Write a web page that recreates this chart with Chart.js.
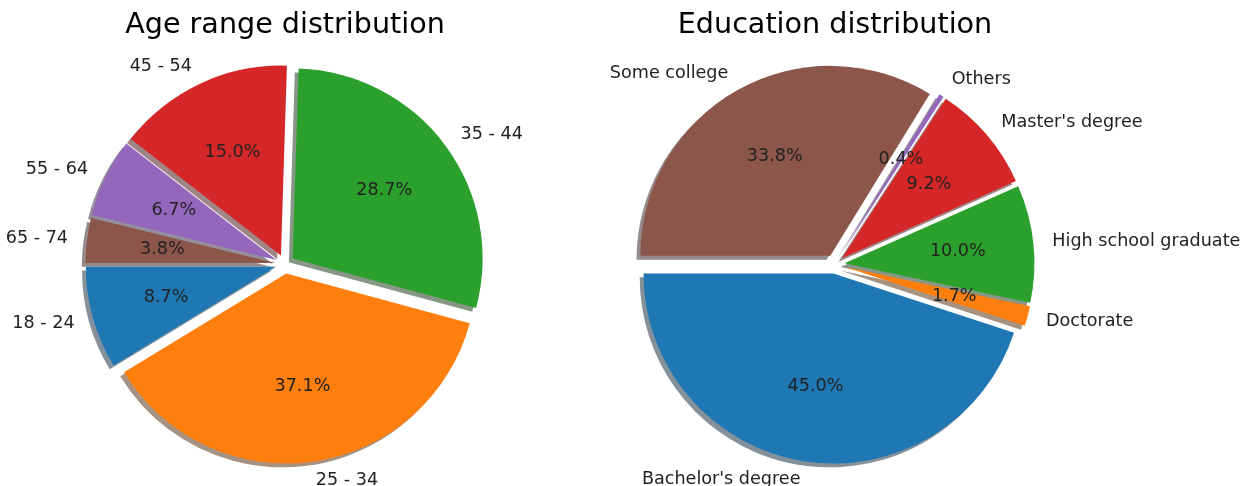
<!DOCTYPE html>
<html>
<head>
<meta charset="utf-8">
<title>Distributions</title>
<script src="https://cdn.jsdelivr.net/npm/chart.js@4.4.1/dist/chart.umd.min.js"></script>
<style>
  html, body { margin: 0; padding: 0; background: #fff; }
  body { position: relative; width: 1258px; height: 486px; overflow: hidden; }
  canvas { position: absolute; top: 0; }
  #chart-age { left: 0; }
  #chart-edu { left: 420px; }
</style>
</head>
<body>
<canvas id="chart-age" width="574" height="486"></canvas>
<canvas id="chart-edu" width="838" height="486"></canvas>
<script>
// Age ranges, share of respondents (%)
const ageLabels = ["18 - 24", "25 - 34", "35 - 44", "45 - 54", "55 - 64", "65 - 74"]
const agePct = [8.7, 37.1, 28.7, 15.0, 6.7, 3.8]

// Education levels, share of respondents (%)
const eduLabels = ["Bachelor's degree", "Doctorate", "High school graduate", "Master's degree", "Others", "Some college"]
const eduPct = [45.0, 1.7, 10.0, 9.2, 0.4, 33.8]

const palette = ["#1f77b4", "#ff7f0e", "#2ca02c", "#d62728", "#9467bd", "#8c564b"]

const EXPLODE = 0.05      // each slice pulled out by this fraction of the radius
const SHADOW_SHIFT = 0.02 // shadow moved left/down by this fraction of the radius
const LABEL_DIST = 1.1
const PCT_DIST = 0.6
const FONT = '"DejaVu Sans", sans-serif'

function rgbOf(hex) {
    const n = parseInt(hex.slice(1), 16)
    return [(n >> 16) & 255, (n >> 8) & 255, n & 255]
}

function midAngle(arc) {
    return (arc.startAngle + arc.endAngle) / 2
}

// exploded slices with a drop shadow, plus outer labels and inner percentages
const explodedPie = {
    id: "explodedPie",
    beforeDatasetDraw(chart, args) {
        const ctx = chart.ctx
        const arcs = args.meta.data
        const colors = chart.data.datasets[args.index].backgroundColor

        // shadows go under every slice
        arcs.forEach((arc, i) => {
            const a = midAngle(arc)
            const e = EXPLODE * arc.outerRadius
            const s = SHADOW_SHIFT * arc.outerRadius
            const [r, g, b] = rgbOf(colors[i])
            const cx = arc.x + Math.cos(a) * e - s
            const cy = arc.y + Math.sin(a) * e + s
            ctx.save()
            ctx.fillStyle = `rgba(${r * 0.3}, ${g * 0.3}, ${b * 0.3}, 0.5)`
            ctx.beginPath()
            ctx.moveTo(cx, cy)
            ctx.arc(cx, cy, arc.outerRadius, arc.startAngle, arc.endAngle)
            ctx.closePath()
            ctx.fill()
            ctx.restore()
        })

        arcs.forEach(arc => {
            const a = midAngle(arc)
            const e = EXPLODE * arc.outerRadius
            ctx.save()
            ctx.translate(Math.cos(a) * e, Math.sin(a) * e)
            arc.draw(ctx)
            ctx.restore()
        })
        return false
    },
    afterDatasetsDraw(chart) {
        const ctx = chart.ctx
        const meta = chart.getDatasetMeta(0)
        const values = chart.data.datasets[0].data
        const labels = chart.data.labels
        ctx.save()
        ctx.font = "17.6px " + FONT
        ctx.fillStyle = "#222"
        ctx.textBaseline = "middle"
        meta.data.forEach((arc, i) => {
            const a = midAngle(arc)
            const R = arc.outerRadius
            const cos = Math.cos(a), sin = Math.sin(a)
            const cx = arc.x + cos * EXPLODE * R
            const cy = arc.y + sin * EXPLODE * R
            ctx.textAlign = cos > 0 ? "left" : "right"
            ctx.fillText(labels[i], cx + cos * R * LABEL_DIST, cy + sin * R * LABEL_DIST)
            ctx.textAlign = "center"
            ctx.fillText(values[i].toFixed(1) + "%", cx + cos * R * PCT_DIST, cy + sin * R * PCT_DIST)
        })
        ctx.restore()
    }
}

function pieChart(canvasId, title, labels, values, padRight) {
    // slices run counter-clockwise from 9 o'clock, so feed them reversed
    // and let Chart.js go clockwise from the same start
    const data = {
        labels: labels.slice().reverse(),
        datasets: [{
            data: values.slice().reverse(),
            backgroundColor: palette.slice(0, values.length).reverse(),
            borderWidth: 0,
            clip: false,
        }],
    }
    const config = {
        type: "pie",
        data: data,
        options: {
            responsive: false,
            animation: false,
            events: [],
            rotation: -90,
            radius: 190,
            layout: { padding: { right: padRight } },
            plugins: {
                legend: { display: false },
                tooltip: { enabled: false },
                title: {
                    display: true,
                    text: title,
                    color: "#000",
                    font: { family: FONT, size: 28.6, weight: "normal", lineHeight: 1.2 },
                    padding: { top: 8, bottom: 0 },
                },
            },
        },
        plugins: [explodedPie],
    }
    new Chart(document.getElementById(canvasId), config)
}

pieChart("chart-age", "Age range distribution", ageLabels, agePct, 4)
pieChart("chart-edu", "Education distribution", eduLabels, eduPct, 8)
</script>
</body>
</html>
